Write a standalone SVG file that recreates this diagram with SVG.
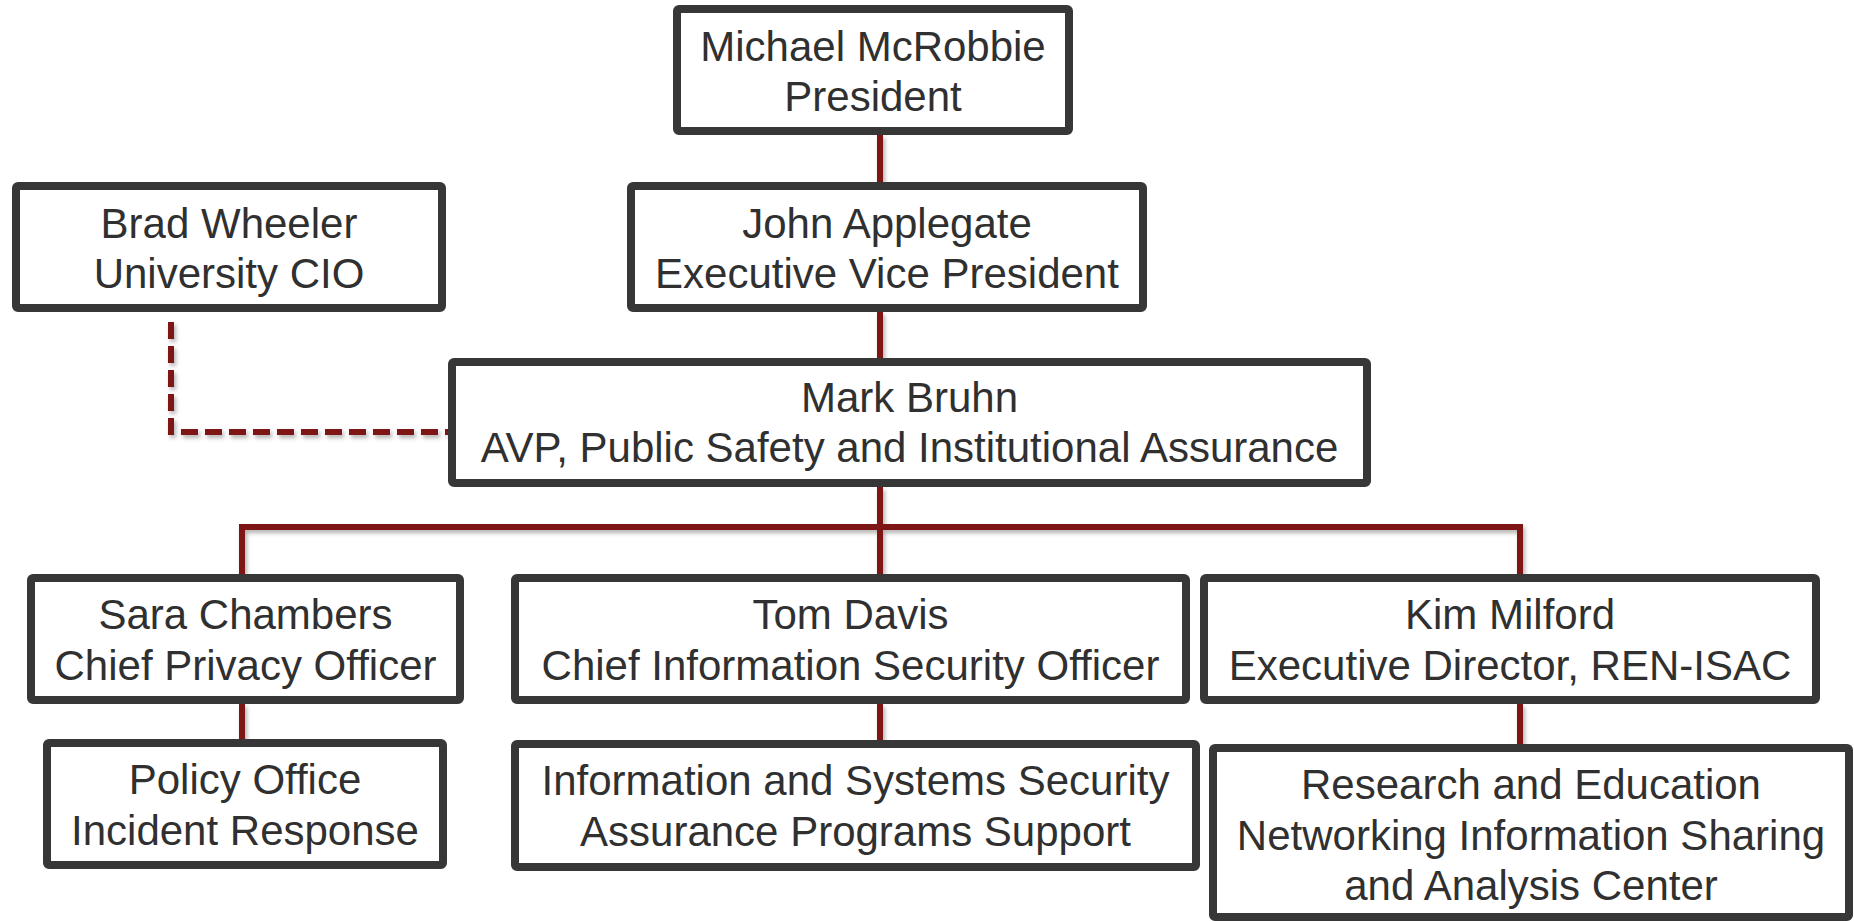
<svg xmlns="http://www.w3.org/2000/svg" width="1854" height="921" viewBox="0 0 1854 921">
<defs>
<filter id="sh" x="-20%" y="-20%" width="140%" height="140%">
<feDropShadow dx="2" dy="3" stdDeviation="2" flood-color="#000" flood-opacity="0.3"/>
</filter>
<style>
.box{fill:#fff;stroke:#373737;stroke-width:8;}
.t{font-family:"Liberation Sans",Arial,sans-serif;font-size:42px;fill:#303030;text-anchor:middle;}
.c{fill:none;stroke:#7e1316;stroke-width:6;}
.d{fill:none;stroke:#7e1316;stroke-width:6;stroke-dasharray:17 7;}
</style>
</defs>
<rect width="1854" height="921" fill="#fff"/>
<g id="connectors" filter="url(#sh)">
<path class="c" d="M880 135V182"/>
<path class="c" d="M880 312V358"/>
<path class="c" d="M880 487V574"/>
<path class="c" d="M242 574V527H1520V574"/>
<path class="c" d="M242 704V739"/>
<path class="c" d="M880 704V740"/>
<path class="c" d="M1520 704V744"/>
<path class="d" d="M171 322V432H448"/>
</g>
<g id="mcrobbie"><rect class="box" x="677" y="9" width="392" height="122" rx="2"/><text class="t" x="873" y="61">Michael McRobbie</text><text class="t" x="873" y="111">President</text></g>
<g id="applegate"><rect class="box" x="631" y="186" width="512" height="122" rx="2"/><text class="t" x="887" y="238">John Applegate</text><text class="t" x="887" y="288">Executive Vice President</text></g>
<g id="wheeler"><rect class="box" x="16" y="186" width="426" height="122" rx="2"/><text class="t" x="229" y="238">Brad Wheeler</text><text class="t" x="229" y="288">University CIO</text></g>
<g id="bruhn"><rect class="box" x="452" y="362" width="915" height="121" rx="2"/><text class="t" x="909.5" y="412">Mark Bruhn</text><text class="t" x="909.5" y="462">AVP, Public Safety and Institutional Assurance</text></g>
<g id="chambers"><rect class="box" x="31" y="578" width="429" height="122" rx="2"/><text class="t" x="245.5" y="629">Sara Chambers</text><text class="t" x="245.5" y="680">Chief Privacy Officer</text></g>
<g id="davis"><rect class="box" x="515" y="578" width="671" height="122" rx="2"/><text class="t" x="850.5" y="629">Tom Davis</text><text class="t" x="850.5" y="680">Chief Information Security Officer</text></g>
<g id="milford"><rect class="box" x="1204" y="578" width="612" height="122" rx="2"/><text class="t" x="1510" y="629">Kim Milford</text><text class="t" x="1510" y="680">Executive Director, REN-ISAC</text></g>
<g id="policy"><rect class="box" x="47" y="743" width="396" height="122" rx="2"/><text class="t" x="245" y="794">Policy Office</text><text class="t" x="245" y="845">Incident Response</text></g>
<g id="iss"><rect class="box" x="515" y="744" width="681" height="123" rx="2"/><text class="t" x="855.5" y="795">Information and Systems Security</text><text class="t" x="855.5" y="846">Assurance Programs Support</text></g>
<g id="ren"><rect class="box" x="1213" y="748" width="636" height="169" rx="2"/><text class="t" x="1531" y="799">Research and Education</text><text class="t" x="1531" y="850">Networking Information Sharing</text><text class="t" x="1531" y="900">and Analysis Center</text></g>
</svg>
